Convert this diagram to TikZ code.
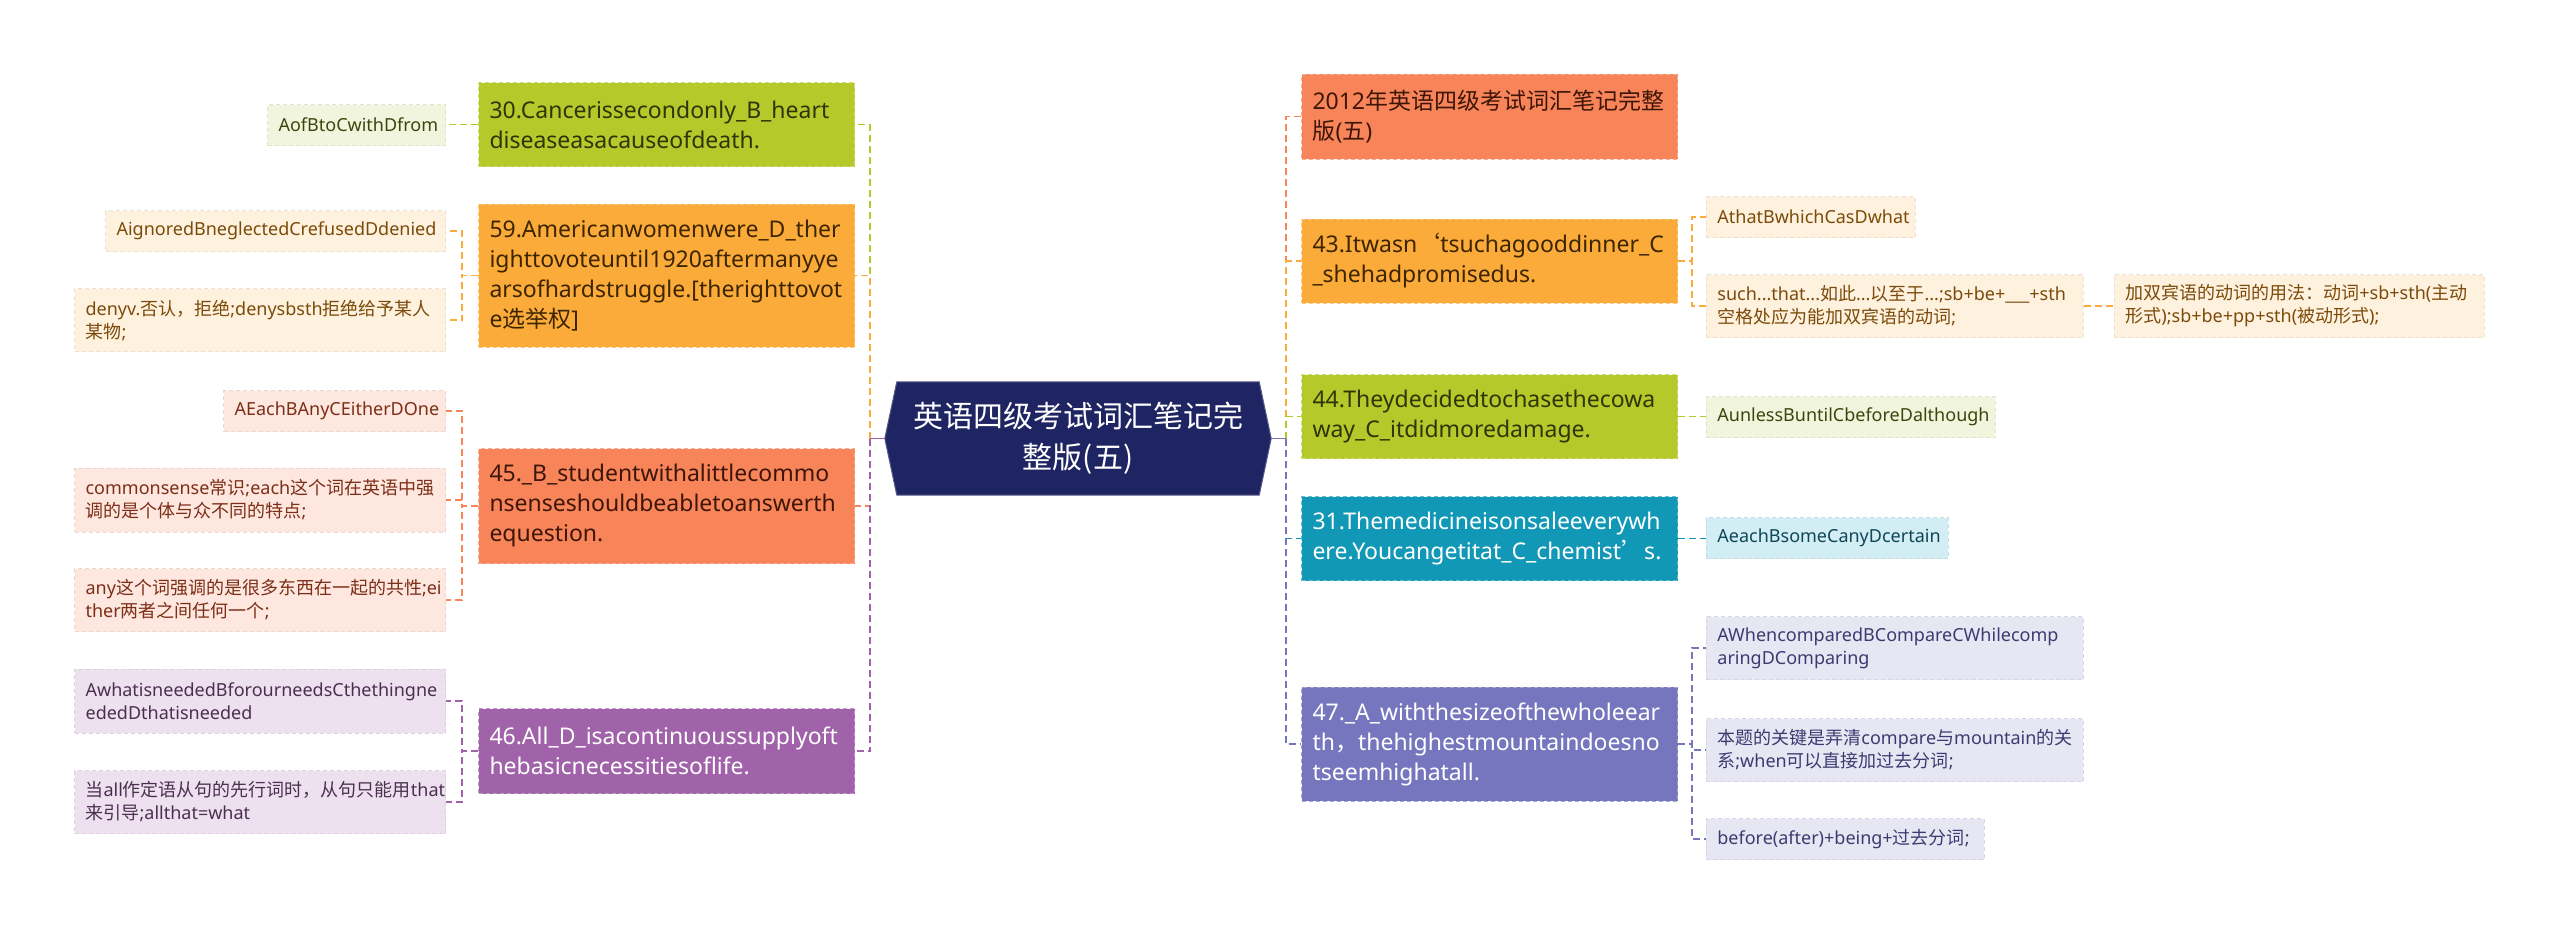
\documentclass[tikz,border=0pt]{standalone}
\usepackage{fontspec}
\setmainfont{Noto Sans}
\newfontfamily\cjkf{Noto Sans CJK SC}
\newcommand\zh[1]{{\cjkf #1}}
\hyphenpenalty=10000 \exhyphenpenalty=10000 \hfuzz=50pt \hbadness=10000
\definecolor{cNavy}{HTML}{1F2462}
\definecolor{cLime}{HTML}{B6C92B}
\definecolor{cOrange}{HTML}{FBAB3A}
\definecolor{cCoral}{HTML}{F8845A}
\definecolor{cPurple}{HTML}{A062A8}
\definecolor{cTeal}{HTML}{1198B6}
\definecolor{cSlate}{HTML}{7676BE}
\definecolor{tLime}{HTML}{2F3508}
\definecolor{tOrange}{HTML}{3D2500}
\definecolor{tCoral}{HTML}{3E1608}
\definecolor{fLime}{HTML}{F1F5DE}
\definecolor{fOrange}{HTML}{FEF2DE}
\definecolor{fCoral}{HTML}{FDE7DF}
\definecolor{fPurple}{HTML}{EEE1EF}
\definecolor{fTeal}{HTML}{D3EDF4}
\definecolor{fSlate}{HTML}{E7E7F3}
\definecolor{sLime}{HTML}{3A470C}
\definecolor{sOrange}{HTML}{7C4A0A}
\definecolor{sCoral}{HTML}{7D2E17}
\definecolor{sPurple}{HTML}{4B2F50}
\definecolor{sTeal}{HTML}{0E4756}
\definecolor{sSlate}{HTML}{3B3B72}
\begin{document}
\begin{tikzpicture}[x=1pt,y=-1pt,
  mainbox/.style={anchor=west, inner xsep=11pt, inner ysep=0pt, text width=354pt,
    align=left, font=\fontsize{23}{30}\selectfont, line width=1pt,
    dash pattern=on 4pt off 3pt},
  subbox/.style={inner xsep=11pt, inner ysep=0pt, align=left,
    font=\fontsize{18}{23}\selectfont, line width=0.8pt, dash pattern=on 4pt off 3pt},
  mLime/.style={fill=cLime, draw=cLime!65!white, text=tLime},
  mOrange/.style={fill=cOrange, draw=cOrange!65!white, text=tOrange},
  mCoral/.style={fill=cCoral, draw=cCoral!65!white, text=tCoral},
  mPurple/.style={fill=cPurple, draw=cPurple!65!white, text=white},
  mTeal/.style={fill=cTeal, draw=cTeal!65!white, text=white},
  mSlate/.style={fill=cSlate, draw=cSlate!65!white, text=white},
  bLime/.style={fill=fLime, draw=fLime!93!black, text=sLime},
  bOrange/.style={fill=fOrange, draw=fOrange!93!black, text=sOrange},
  bCoral/.style={fill=fCoral, draw=fCoral!93!black, text=sCoral},
  bPurple/.style={fill=fPurple, draw=fPurple!93!black, text=sPurple},
  bTeal/.style={fill=fTeal, draw=fTeal!93!black, text=sTeal},
  bSlate/.style={fill=fSlate, draw=fSlate!93!black, text=sSlate},
  conn/.style={line width=1.6pt, dash pattern=on 7pt off 4pt},
  stub/.style={line width=1.6pt}
]
\fill[white] (0,0) rectangle (2560,935);
\useasboundingbox (0,0) rectangle (2560,935);

% central node
\node[minimum width=386pt, minimum height=113pt, inner sep=0pt, align=center,
  text=white, font=\cjkf\fontsize{30}{41}\selectfont] (c) at (1078,438.5) {};
\filldraw[fill=cNavy, draw=cNavy!75!white, line width=1pt]
  ([xshift=12pt]c.north west) -- ([xshift=-12pt]c.north east) -- (c.east)
  -- ([xshift=-12pt]c.south east) -- ([xshift=12pt]c.south west) -- (c.west) -- cycle;
\node[align=center, text=white, font=\cjkf\fontsize{30}{41}\selectfont, inner sep=0pt]
  (ct) at (c.center) {英语四级考试词汇笔记完\\整版(五)};

% left main nodes
\node[mainbox, mLime, minimum height=84pt] (n30) at (478,124.5)
  {30.Cancerissecondonly\_B\_heart\\diseaseasacauseofdeath.};
\node[mainbox, mOrange, minimum height=143pt] (n59) at (478,275.5)
  {59.Americanwomenwere\_D\_ther\\ighttovoteuntil1920aftermanyye\\arsofhardstruggle.[therighttovot\\e\zh{选举权}]};
\node[mainbox, mCoral, minimum height=115pt] (n45) at (478,506)
  {45.\_B\_studentwithalittlecommo\\nsenseshouldbeabletoanswerth\\equestion.};
\node[mainbox, mPurple, minimum height=85pt] (n46) at (478,751)
  {46.All\_D\_isacontinuoussupplyoft\\hebasicnecessitiesoflife.};

% right main nodes
\node[mainbox, mCoral, minimum height=85pt] (n12) at (1301,116.5)
  {2012\zh{年英语四级考试词汇笔记完整}\\\zh{版}(\zh{五})};
\node[mainbox, mOrange, minimum height=84pt] (n43) at (1301,261)
  {43.Itwasn\zh{‘}tsuchagooddinner\_C\\\_shehadpromisedus.};
\node[mainbox, mLime, minimum height=84pt] (n44) at (1301,416.5)
  {44.Theydecidedtochasethecowa\\way\_C\_itdidmoredamage.};
\node[mainbox, mTeal, minimum height=84pt] (n31) at (1301,538.5)
  {31.Themedicineisonsaleeverywh\\ere.Youcangetitat\_C\_chemist\zh{’}s.};
\node[mainbox, mSlate, minimum height=114pt] (n47) at (1301,744)
  {47.\_A\_withthesizeofthewholeear\\th\zh{，}thehighestmountaindoesno\\tseemhighatall.};

% left sub nodes
\node[subbox, bLime, anchor=east, text width=156pt, minimum height=41pt] (s30a) at (446,125)
  {AofBtoCwithDfrom};
\node[subbox, bOrange, anchor=east, text width=318pt, minimum height=41pt] (s59a) at (446,231)
  {AignoredBneglectedCrefusedDdenied};
\node[subbox, bOrange, anchor=east, text width=349pt, minimum height=63pt] (s59b) at (446,320)
  {denyv.\zh{否认，拒绝};denysbsth\zh{拒绝给予某人}\\\zh{某物};};
\node[subbox, bCoral, anchor=east, text width=200pt, minimum height=41pt] (s45a) at (446,411)
  {AEachBAnyCEitherDOne};
\node[subbox, bCoral, anchor=east, text width=349pt, minimum height=64pt] (s45b) at (446,500)
  {commonsense\zh{常识};each\zh{这个词在英语中强}\\\zh{调的是个体与众不同的特点};};
\node[subbox, bCoral, anchor=east, text width=349pt, minimum height=63pt] (s45c) at (446,600)
  {any\zh{这个词强调的是很多东西在一起的共性};ei\\ther\zh{两者之间任何一个};};
\node[subbox, bPurple, anchor=east, text width=349pt, minimum height=64pt] (s46a) at (446,701)
  {AwhatisneededBforourneedsCthethingne\\ededDthatisneeded};
\node[subbox, bPurple, anchor=east, text width=349pt, minimum height=63pt] (s46b) at (446,802)
  {\zh{当}all\zh{作定语从句的先行词时，从句只能用}that\\\zh{来引导};allthat=what};

% right sub nodes
\node[subbox, bOrange, anchor=west, text width=187pt, minimum height=41pt] (s43a) at (1706,217)
  {AthatBwhichCasDwhat};
\node[subbox, bOrange, anchor=west, text width=355pt, minimum height=63pt] (s43b) at (1706,306)
  {such...that...\zh{如此}...\zh{以至于}...;sb+be+\_\_\_+sth\\\zh{空格处应为能加双宾语的动词};};
\node[subbox, bOrange, anchor=west, text width=348pt, minimum height=63pt] (s43c) at (2114,306)
  {\zh{加双宾语的动词的用法：动词}+sb+sth(\zh{主动}\\\zh{形式});sb+be+pp+sth(\zh{被动形式});};
\node[subbox, bLime, anchor=west, text width=267pt, minimum height=41pt] (s44a) at (1706,417)
  {AunlessBuntilCbeforeDalthough};
\node[subbox, bTeal, anchor=west, text width=220pt, minimum height=41pt] (s31a) at (1706,538)
  {AeachBsomeCanyDcertain};
\node[subbox, bSlate, anchor=west, text width=355pt, minimum height=63pt] (s47a) at (1706,648)
  {AWhencomparedBCompareCWhilecomp\\aringDComparing};
\node[subbox, bSlate, anchor=west, text width=355pt, minimum height=63pt] (s47b) at (1706,750)
  {\zh{本题的关键是弄清}compare\zh{与}mountain\zh{的关}\\\zh{系};when\zh{可以直接加过去分词};};
\node[subbox, bSlate, anchor=west, text width=256pt, minimum height=41pt] (s47c) at (1706,839)
  {before(after)+being+\zh{过去分词};};

% spine junctions
\coordinate (lj) at (870,438.5);
\coordinate (rj) at (1286,438.5);

% central -> left main
\draw[conn, cLime] (lj) |- (n30.east);
\draw[conn, cOrange] (lj) |- (n59.east);
\draw[conn, cCoral] (lj) |- (n45.east);
\draw[conn, cPurple] (lj) |- (n46.east);
\draw[stub, cPurple] (c.west) -- (lj);

% central -> right main
\draw[conn, cCoral] (rj) |- (n12.west);
\draw[conn, cOrange] (rj) |- (n43.west);
\draw[conn, cLime] (rj) |- (n44.west);
\draw[conn, cTeal] (rj) |- (n31.west);
\draw[conn, cSlate] (rj) |- (n47.west);
\draw[stub, cSlate] (c.east) -- (rj);

% left main -> subs
\draw[conn, cLime] (n30.west) -- (s30a.east |- n30.west);
\draw[conn, cOrange] (n59.west) -- ++(-16,0) |- (s59a.east);
\draw[conn, cOrange] (n59.west) -- ++(-16,0) |- (s59b.east);
\draw[conn, cCoral] (n45.west) -- ++(-16,0) |- (s45a.east);
\draw[conn, cCoral] (n45.west) -- ++(-16,0) |- (s45b.east);
\draw[conn, cCoral] (n45.west) -- ++(-16,0) |- (s45c.east);
\draw[conn, cPurple] (n46.west) -- ++(-16,0) |- (s46a.east);
\draw[conn, cPurple] (n46.west) -- ++(-16,0) |- (s46b.east);

% right main -> subs
\draw[conn, cOrange] (n43.east) -- ++(14,0) |- (s43a.west);
\draw[conn, cOrange] (n43.east) -- ++(14,0) |- (s43b.west);
\draw[conn, cOrange] (s43b.east) -- (s43c.west);
\draw[conn, cLime] (n44.east) -- (s44a.west |- n44.east);
\draw[conn, cTeal] (n31.east) -- (s31a.west |- n31.east);
\draw[conn, cSlate] (n47.east) -- ++(14,0) |- (s47a.west);
\draw[conn, cSlate] (n47.east) -- ++(14,0) |- (s47b.west);
\draw[conn, cSlate] (n47.east) -- ++(14,0) |- (s47c.west);
\end{tikzpicture}
\end{document}
